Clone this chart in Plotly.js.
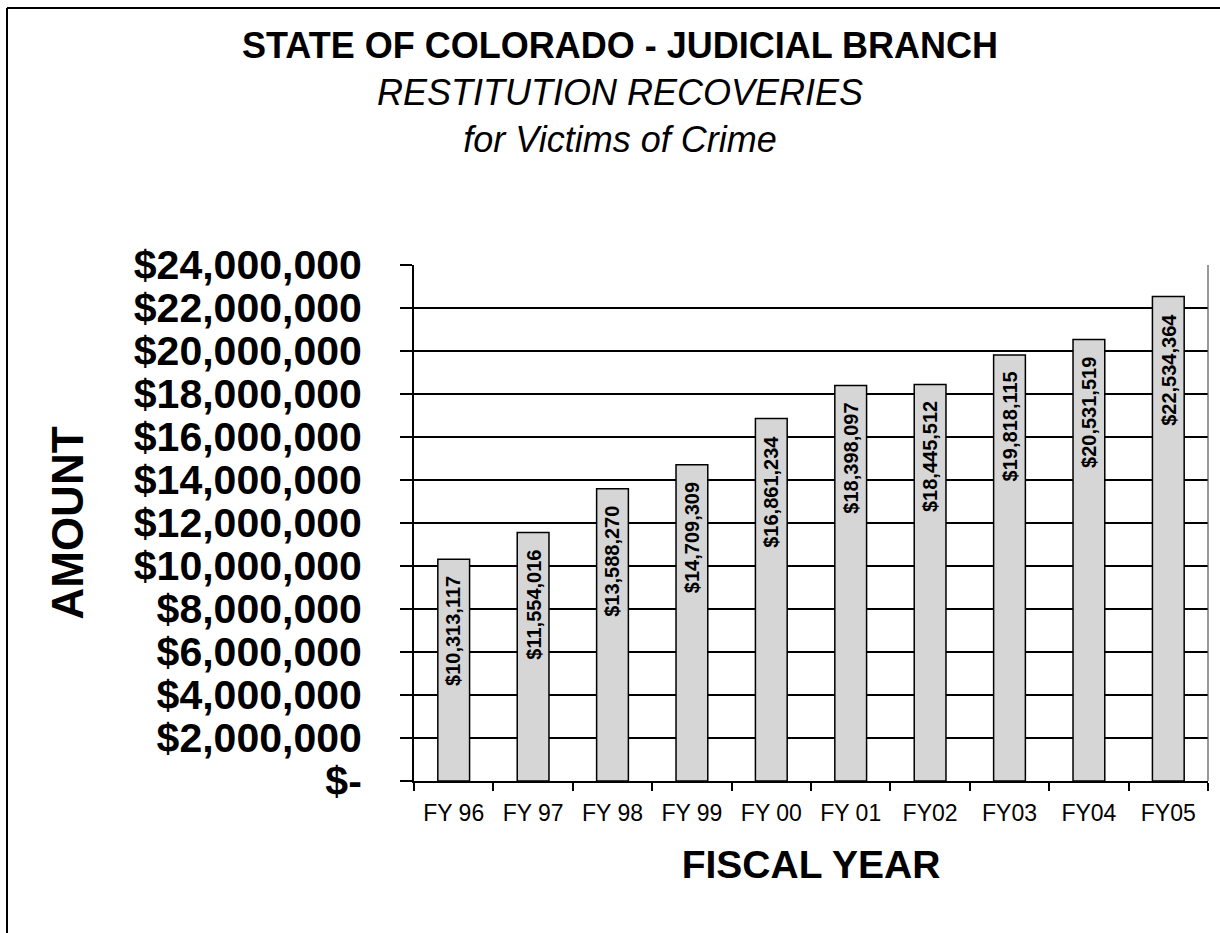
<!DOCTYPE html>
<html>
<head>
<meta charset="utf-8">
<script src="https://cdn.plot.ly/plotly-3.0.1.min.js"></script>
<style>
  html, body { margin: 0; padding: 0; background: #ffffff; }
  #chart { width: 1220px; height: 933px; }
</style>
</head>
<body>
<div id="chart"></div>
<script>
// ---- data ----
const fiscalYears = ["FY 96", "FY 97", "FY 98", "FY 99", "FY 00", "FY 01", "FY02", "FY03", "FY04", "FY05"];
const recoveries = [10313117, 11554016, 13588270, 14709309, 16861234, 18398097, 18445512, 19818115, 20531519, 22534364];
const yTickVals = [0, 2000000, 4000000, 6000000, 8000000, 10000000, 12000000, 14000000, 16000000, 18000000, 20000000, 22000000, 24000000];
const yTickText = ["$-", "$2,000,000", "$4,000,000", "$6,000,000", "$8,000,000", "$10,000,000", "$12,000,000", "$14,000,000", "$16,000,000", "$18,000,000", "$20,000,000", "$22,000,000", "$24,000,000"];

const FONT = "Arial, 'Liberation Sans', Helvetica, sans-serif";
const W = 1220, H = 933;
const M = { l: 414, r: 12, t: 265, b: 152 };
const pw = W - M.l - M.r, ph = H - M.t - M.b;
const px2x = px => (px - M.l) / pw;
const py2y = py => (H - M.b - py) / ph;

const trace = {
  type: "bar",
  x: fiscalYears,
  y: recoveries,
  marker: { color: "#d6d6d6", line: { color: "#000000", width: 1.5 } },
  hoverinfo: "skip"
};

const labelAnnotations = fiscalYears.map((fy, i) => ({
  x: fy, y: recoveries[i], xref: "x", yref: "y",
  text: "$" + recoveries[i].toLocaleString("en-US"),
  textangle: -90, showarrow: false,
  xanchor: "center", yanchor: "top", yshift: -15,
  font: { family: FONT, size: 20, color: "#000000", weight: "bold" }
}));

const layout = {
  width: W, height: H,
  margin: M,
  paper_bgcolor: "#ffffff",
  plot_bgcolor: "#ffffff",
  showlegend: false,
  bargap: 0.6,
  title: {
    text: "<b>STATE OF COLORADO - JUDICIAL BRANCH</b><br><i>RESTITUTION RECOVERIES</i><br><i>for Victims of Crime</i>",
    font: { family: FONT, size: 36, color: "#000000" },
    x: 620 / W, xanchor: "center",
    y: 1 - 58 / H, yanchor: "top", yref: "container"
  },
  xaxis: {
    type: "category",
    showline: true, linecolor: "#000000", linewidth: 2,
    ticks: "outside", tickson: "boundaries", ticklen: 8, tickwidth: 2, tickcolor: "#000000",
    ticklabelstandoff: 10,
    tickfont: { family: FONT, size: 23, color: "#000000" },
    showgrid: false, zeroline: false,
    title: { text: "<b>FISCAL YEAR</b>", font: { family: FONT, size: 39, color: "#000000" }, standoff: 26 },
    automargin: false
  },
  yaxis: {
    range: [0, 24000000],
    tickmode: "array", tickvals: yTickVals, ticktext: yTickText,
    showline: true, linecolor: "#000000", linewidth: 2,
    ticks: "outside", ticklen: 12, tickwidth: 2, tickcolor: "#000000",
    ticklabelstandoff: 30,
    tickfont: { family: FONT, size: 41, color: "#000000", weight: "bold" },
    showgrid: true, gridcolor: "#000000", gridwidth: 1.5,
    zeroline: false,
    title: { text: "<b>AMOUNT</b>", font: { family: FONT, size: 44, color: "#000000" }, standoff: 36 },
    automargin: false
  },
  annotations: labelAnnotations,
  shapes: [
    { type: "line", xref: "paper", yref: "paper", x0: 1, x1: 1, y0: 0, y1: 1,
      line: { color: "#555555", width: 1.2 } },
    { type: "line", xref: "paper", yref: "paper", x0: px2x(7), x1: px2x(1230), y0: py2y(8), y1: py2y(8),
      line: { color: "#000000", width: 2 } },
    { type: "line", xref: "paper", yref: "paper", x0: px2x(7), x1: px2x(7), y0: py2y(8), y1: py2y(940),
      line: { color: "#000000", width: 2 } }
  ]
};

Plotly.newPlot("chart", [trace], layout, { displayModeBar: false, staticPlot: true });
</script>
</body>
</html>
